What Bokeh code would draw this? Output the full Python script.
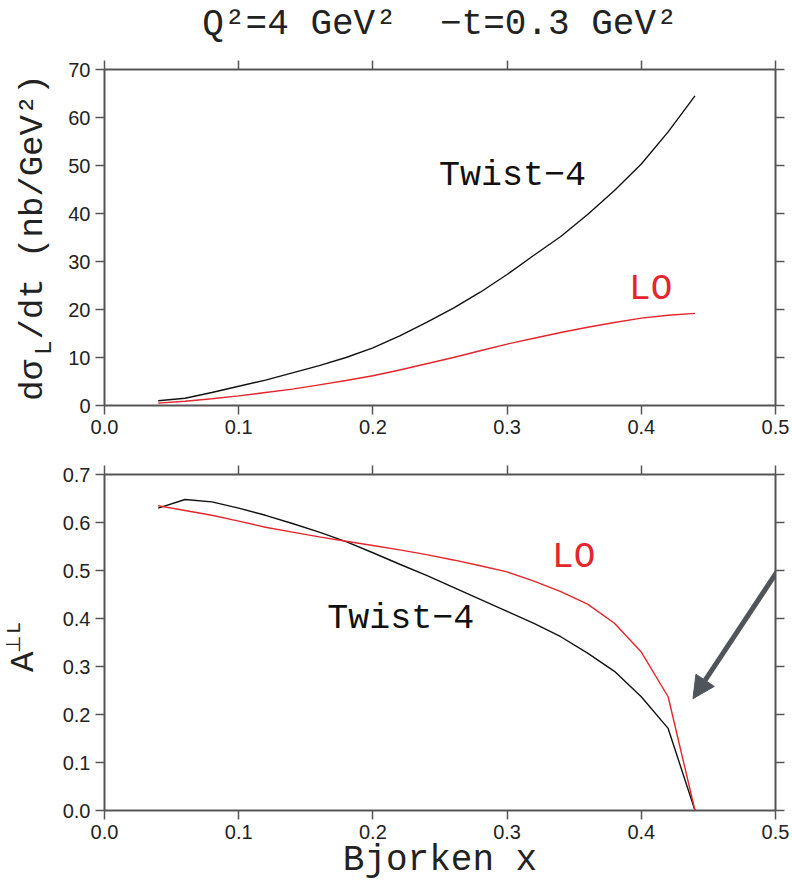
import numpy as np
from bokeh.plotting import figure
from bokeh.models import (Range1d, LinearAxis, FixedTicker, PrintfTickFormatter,
                          Label, Arrow, NormalHead, AllLabels)
from bokeh.layouts import column
from bokeh.embed import file_html
from bokeh.resources import INLINE

# ---------------- data ----------------
x_bj = [0.04, 0.06, 0.08, 0.10, 0.12, 0.14, 0.16, 0.18, 0.20, 0.22, 0.24,
        0.26, 0.28, 0.30, 0.32, 0.34, 0.36, 0.38, 0.40, 0.42, 0.44]

dsig_twist4 = [1.0, 1.5, 2.7, 4.0, 5.3, 6.8, 8.3, 10.0, 12.0, 14.5, 17.3,
               20.3, 23.6, 27.3, 31.3, 35.2, 39.8, 44.8, 50.3, 57.0, 64.5]
dsig_lo = [0.5, 0.9, 1.4, 2.0, 2.7, 3.4, 4.3, 5.2, 6.2, 7.4, 8.7,
           10.0, 11.4, 12.8, 14.0, 15.2, 16.3, 17.3, 18.2, 18.8, 19.2]

asym_twist4 = [0.630, 0.648, 0.643, 0.630, 0.615, 0.598, 0.580, 0.560, 0.537, 0.513, 0.490,
               0.465, 0.440, 0.415, 0.390, 0.362, 0.328, 0.290, 0.237, 0.171, 0.0]
asym_lo = [0.635, 0.625, 0.615, 0.603, 0.590, 0.580, 0.570, 0.561, 0.552, 0.543, 0.533,
           0.522, 0.510, 0.497, 0.478, 0.456, 0.430, 0.390, 0.330, 0.237, 0.0]

x_ticks = [0.0, 0.1, 0.2, 0.3, 0.4, 0.5]
y_ticks_top = [0, 10, 20, 30, 40, 50, 60, 70]
y_ticks_bot = [0.0, 0.1, 0.2, 0.3, 0.4, 0.5, 0.6, 0.7]

NB = "\u00a0"
title_text = "Q²=4" + NB + "GeV²" + NB + NB + "−t=0.3" + NB + "GeV²"
ylabel_top = "dσ" + NB + "/dt" + NB + "(nb/GeV²)"   # the NB after σ holds the subscript L
ylabel_top_sub = "L"
ylabel_bot = ["A", "⊥", "L"]
xlabel_text = "Bjorken x"
curve_names = ["Twist−4", "LO"]

# ---------------- styling ----------------
BLACK = "#111111"
RED = "#e3262b"
AXC = "#555555"
TXT = "#222222"
SERIF = "Liberation Mono"
SANS = "Liberation Sans"
W = 792
H1, H2 = 441, 447


def style_axis(ax):
    ax.axis_line_color = AXC
    ax.axis_line_width = 2
    ax.major_tick_line_color = AXC
    ax.major_tick_line_width = 1.5
    ax.major_tick_out = 9
    ax.major_tick_in = 0
    ax.minor_tick_line_color = AXC
    ax.minor_tick_line_width = 1.5
    ax.minor_tick_out = 9
    ax.minor_tick_in = 0
    ax.major_label_standoff = 5
    ax.major_label_text_font = SANS
    ax.major_label_text_color = TXT
    ax.major_label_text_font_size = "20px"


def text_axis(ticks, labels, size, standoff):
    """Invisible outer axis whose rotated tick labels build up a y title."""
    ax = LinearAxis(ticker=FixedTicker(ticks=ticks),
                    major_label_overrides=dict(zip(ticks, labels)),
                    major_label_policy=AllLabels())
    ax.axis_line_color = None
    ax.major_tick_line_color = None
    ax.minor_tick_line_color = None
    ax.major_tick_out = 0
    ax.major_tick_in = 0
    ax.minor_tick_out = 0
    ax.minor_tick_in = 0
    ax.major_label_orientation = "parallel"
    ax.major_label_text_font = SERIF
    ax.major_label_text_font_size = size
    ax.major_label_text_color = TXT
    ax.major_label_standoff = standoff
    return ax


def make_fig(height, ymax, yticks, yfmt, border_top, border_bottom):
    p = figure(width=W, height=height, output_backend="svg", toolbar_location=None,
               x_range=Range1d(0, 0.5), y_range=Range1d(0, ymax),
               min_border_left=100, min_border_right=17,
               min_border_top=border_top, min_border_bottom=border_bottom)
    p.title.standoff = 0
    p.grid.visible = False
    p.outline_line_color = None
    p.background_fill_color = "white"
    p.border_fill_color = "white"
    bottom_axis = p.below[0]
    left_axis = p.left[0]
    bottom_axis.ticker = FixedTicker(ticks=x_ticks)
    bottom_axis.formatter = PrintfTickFormatter(format="%.1f")
    left_axis.ticker = FixedTicker(ticks=yticks)
    left_axis.formatter = PrintfTickFormatter(format=yfmt)
    style_axis(bottom_axis)
    style_axis(left_axis)
    # mirrored frame axes: ticks only (as minor ticks, so no labels are produced)
    top = LinearAxis(ticker=FixedTicker(ticks=[], minor_ticks=x_ticks))
    right = LinearAxis(ticker=FixedTicker(ticks=[], minor_ticks=yticks))
    style_axis(top)
    style_axis(right)
    top.major_label_standoff = 0
    p.add_layout(top, "above")
    p.add_layout(right, "right")
    return p, top


# ---------------- top panel ----------------
p1, top1 = make_fig(H1, 70, y_ticks_top, "%d", 68, 36)
# figure heading carried by the upper frame axis
top1.axis_label = title_text
top1.axis_label_text_font = SERIF
top1.axis_label_text_font_size = "36px"
top1.axis_label_text_font_style = "normal"
top1.axis_label_text_color = TXT
top1.axis_label_standoff = 16

p1.line(x_bj, dsig_twist4, line_color=BLACK, line_width=1.4)
p1.line(x_bj, dsig_lo, line_color=RED, line_width=1.4)

p1.add_layout(Label(x=0.304, y=47.9, text=curve_names[0], text_font=SERIF,
                    text_font_size="35px", text_color=BLACK,
                    text_align="center", text_baseline="middle"))
p1.add_layout(Label(x=0.407, y=24.2, text=curve_names[1], text_font=SERIF,
                    text_font_size="36px", text_color=RED,
                    text_align="center", text_baseline="middle"))

# outer left axis: carries the rotated y title, its tick label is the subscript L
yt = text_axis([12], [ylabel_top_sub], "24px", 7)
yt.axis_label = ylabel_top
yt.axis_label_text_font = SERIF
yt.axis_label_text_font_size = "34px"
yt.axis_label_text_font_style = "normal"
yt.axis_label_text_color = TXT
yt.axis_label_standoff = -23
p1.add_layout(yt, "left")

# ---------------- bottom panel ----------------
p2, top2 = make_fig(H2, 0.7, y_ticks_bot, "%.1f", 474 - H1, 888 - 810)
p2.line(x_bj, asym_twist4, line_color=BLACK, line_width=1.4)
p2.line(x_bj, asym_lo, line_color=RED, line_width=1.4)

p2.add_layout(Label(x=0.2207, y=0.40, text=curve_names[0], text_font=SERIF,
                    text_font_size="35px", text_color=BLACK,
                    text_align="center", text_baseline="middle"))
p2.add_layout(Label(x=0.3496, y=0.527, text=curve_names[1], text_font=SERIF,
                    text_font_size="36px", text_color=RED,
                    text_align="center", text_baseline="middle"))

# rotated y title A^⊥_L: "A" on one outer axis, raised "⊥" and "L" on the next
p2.add_layout(text_axis([0.31], [ylabel_bot[0]], "34px", 16), "left")
p2.add_layout(text_axis([0.345, 0.38], ylabel_bot[1:], "20px", -24), "left")

xb = p2.below[0]
xb.axis_label = xlabel_text
xb.axis_label_text_font = SERIF
xb.axis_label_text_font_size = "36px"
xb.axis_label_text_font_style = "normal"
xb.axis_label_text_color = TXT
xb.axis_label_standoff = -2

# grey pointer arrow (slide overlay)
p2.add_layout(Arrow(end=NormalHead(size=22, fill_color="#50555b", line_color="#50555b"),
                    x_start=0.5185, y_start=0.5708, x_end=0.4385, y_end=0.233,
                    line_color="#50555b", line_width=5))

layout = column(p1, p2, spacing=0)
open("out.html", "w").write(file_html(layout, INLINE))
